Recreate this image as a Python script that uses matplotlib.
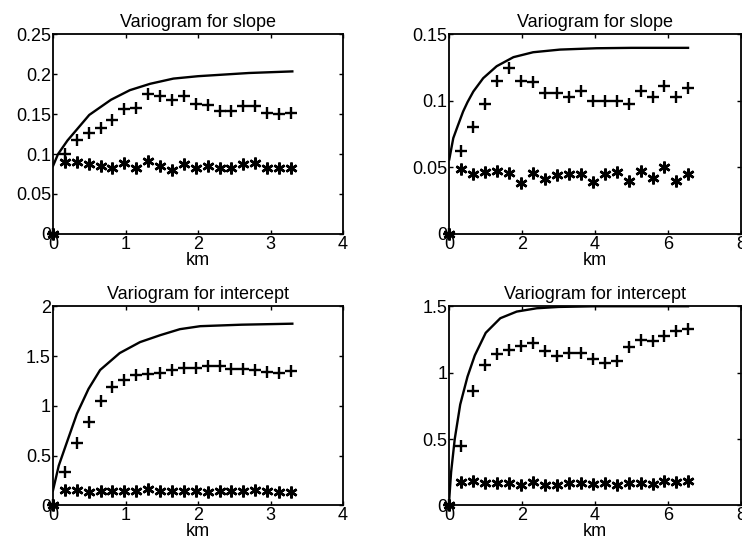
#! /usr/bin/env python3

import numpy as np
from matplotlib import pyplot as plt

plt.rcParams['font.family'] = ['Liberation Sans', 'DejaVu Sans']
plt.rcParams['font.size'] = 13

# lag distances (km), first entry is the origin
lag_short = [0] + [0.164 * k for k in range(1, 21)]
lag_long = [0] + [0.328 * k for k in range(1, 21)]

# slope, short lags
slope_s_plus = [0, 0.100, 0.118, 0.126, 0.133, 0.143, 0.156, 0.158, 0.175, 0.173, 0.168,
                0.173, 0.163, 0.161, 0.154, 0.154, 0.160, 0.160, 0.152, 0.150, 0.151]
slope_s_star = [0, 0.090, 0.090, 0.087, 0.085, 0.083, 0.089, 0.083, 0.091, 0.085, 0.080,
                0.087, 0.083, 0.085, 0.083, 0.083, 0.087, 0.089, 0.082, 0.082, 0.082]
slope_s_fit_x = [0, 0.07, 0.2, 0.5, 0.8, 1.06, 1.34, 1.66, 2.0, 2.7, 3.3]
slope_s_fit_y = [0.085, 0.100, 0.117, 0.149, 0.168, 0.180, 0.188, 0.1945, 0.1975, 0.2015, 0.2035]

# slope, long lags
slope_l_plus = [0, 0.0625, 0.080, 0.0975, 0.115, 0.1245, 0.115, 0.114, 0.106, 0.1058, 0.103,
                0.1075, 0.100, 0.100, 0.100, 0.0975, 0.1075, 0.1025, 0.111, 0.103, 0.110]
slope_l_star = [0, 0.0488, 0.045, 0.0465, 0.047, 0.0458, 0.038, 0.0458, 0.041, 0.044, 0.045,
                0.045, 0.039, 0.045, 0.0465, 0.0395, 0.0475, 0.042, 0.050, 0.0395, 0.045]
slope_l_fit_x = [0, 0.11, 0.23, 0.38, 0.5, 0.66, 0.93, 1.3, 1.76, 2.3, 3.04, 4.04, 5.0, 6.55]
slope_l_fit_y = [0.056, 0.072, 0.081, 0.092, 0.099, 0.107, 0.117, 0.126, 0.1328, 0.1365,
                 0.1385, 0.1395, 0.1398, 0.1398]

# intercept, short lags
icpt_s_plus = [0, 0.34, 0.63, 0.84, 1.05, 1.19, 1.26, 1.31, 1.32, 1.33, 1.36,
               1.38, 1.38, 1.40, 1.40, 1.37, 1.37, 1.36, 1.34, 1.33, 1.35]
icpt_s_star = [0, 0.15, 0.15, 0.135, 0.14, 0.14, 0.145, 0.14, 0.16, 0.14, 0.14,
               0.14, 0.14, 0.135, 0.14, 0.14, 0.145, 0.155, 0.14, 0.135, 0.135]
icpt_s_fit_x = [0, 0.08, 0.19, 0.33, 0.49, 0.65, 0.92, 1.2, 1.48, 1.75, 2.03, 2.6, 3.3]
icpt_s_fit_y = [0.15, 0.40, 0.63, 0.92, 1.17, 1.36, 1.53, 1.64, 1.71, 1.77, 1.80, 1.815, 1.825]

# intercept, long lags
icpt_l_plus = [0, 0.445, 0.86, 1.06, 1.14, 1.17, 1.20, 1.225, 1.16, 1.125, 1.15,
               1.15, 1.105, 1.07, 1.09, 1.195, 1.243, 1.24, 1.275, 1.31, 1.33]
icpt_l_star = [0, 0.175, 0.18, 0.17, 0.17, 0.17, 0.15, 0.175, 0.155, 0.155, 0.17,
               0.17, 0.16, 0.17, 0.15, 0.17, 0.17, 0.163, 0.18, 0.175, 0.18]
icpt_l_fit_x = [0, 0.05, 0.15, 0.3, 0.5, 0.7, 1.0, 1.4, 1.85, 2.4, 3.0, 4.0, 5.0, 6.55]
icpt_l_fit_y = [0.05, 0.25, 0.5, 0.76, 0.97, 1.13, 1.30, 1.41, 1.46, 1.485, 1.495, 1.5, 1.5, 1.5]

panels = [
    ('Variogram for slope', lag_short, slope_s_plus, slope_s_star, slope_s_fit_x, slope_s_fit_y,
     [0, 1, 2, 3, 4], [0, 0.05, 0.1, 0.15, 0.2, 0.25], ['0', '0.05', '0.1', '0.15', '0.2', '0.25']),
    ('Variogram for slope', lag_long, slope_l_plus, slope_l_star, slope_l_fit_x, slope_l_fit_y,
     [0, 2, 4, 6, 8], [0, 0.05, 0.1, 0.15], ['0', '0.05', '0.1', '0.15']),
    ('Variogram for intercept', lag_short, icpt_s_plus, icpt_s_star, icpt_s_fit_x, icpt_s_fit_y,
     [0, 1, 2, 3, 4], [0, 0.5, 1, 1.5, 2], ['0', '0.5', '1', '1.5', '2']),
    ('Variogram for intercept', lag_long, icpt_l_plus, icpt_l_star, icpt_l_fit_x, icpt_l_fit_y,
     [0, 2, 4, 6, 8], [0, 0.5, 1, 1.5], ['0', '0.5', '1', '1.5']),
]

fig = plt.figure(figsize=(7.42, 5.44), dpi=100)
rects = [[0.0714, 0.570, 0.391, 0.367], [0.6055, 0.570, 0.393, 0.367],
         [0.0714, 0.071, 0.391, 0.366], [0.6055, 0.071, 0.393, 0.366]]

star = (6, 2, 0)
for rect, (title, lag, plus, stars, fx, fy, xt, yt, ytl) in zip(rects, panels):
    ax = fig.add_axes(rect)
    ax.plot(fx, fy, color='black', lw=1.7)
    ax.plot(lag, plus, linestyle='none', marker='+', color='black', ms=9, mew=1.7, clip_on=False)
    ax.plot(lag, stars, linestyle='none', marker=star, color='black', ms=8.5, mew=1.8, clip_on=False)
    ax.set_xlim(xt[0], xt[-1])
    ax.set_ylim(yt[0], yt[-1])
    ax.set_xticks(xt)
    ax.set_xticklabels([str(v) for v in xt])
    ax.set_yticks(yt)
    ax.set_yticklabels(ytl)
    ax.tick_params(direction='in', top=True, right=True, length=3, width=1, pad=1.5, labelsize=13)
    for s in ax.spines.values():
        s.set_linewidth(1.3)
    ax.set_title(title, fontsize=13, pad=5)
    ax.set_xlabel('km', fontsize=13, labelpad=-1)

plt.savefig('out.png', dpi=100)
